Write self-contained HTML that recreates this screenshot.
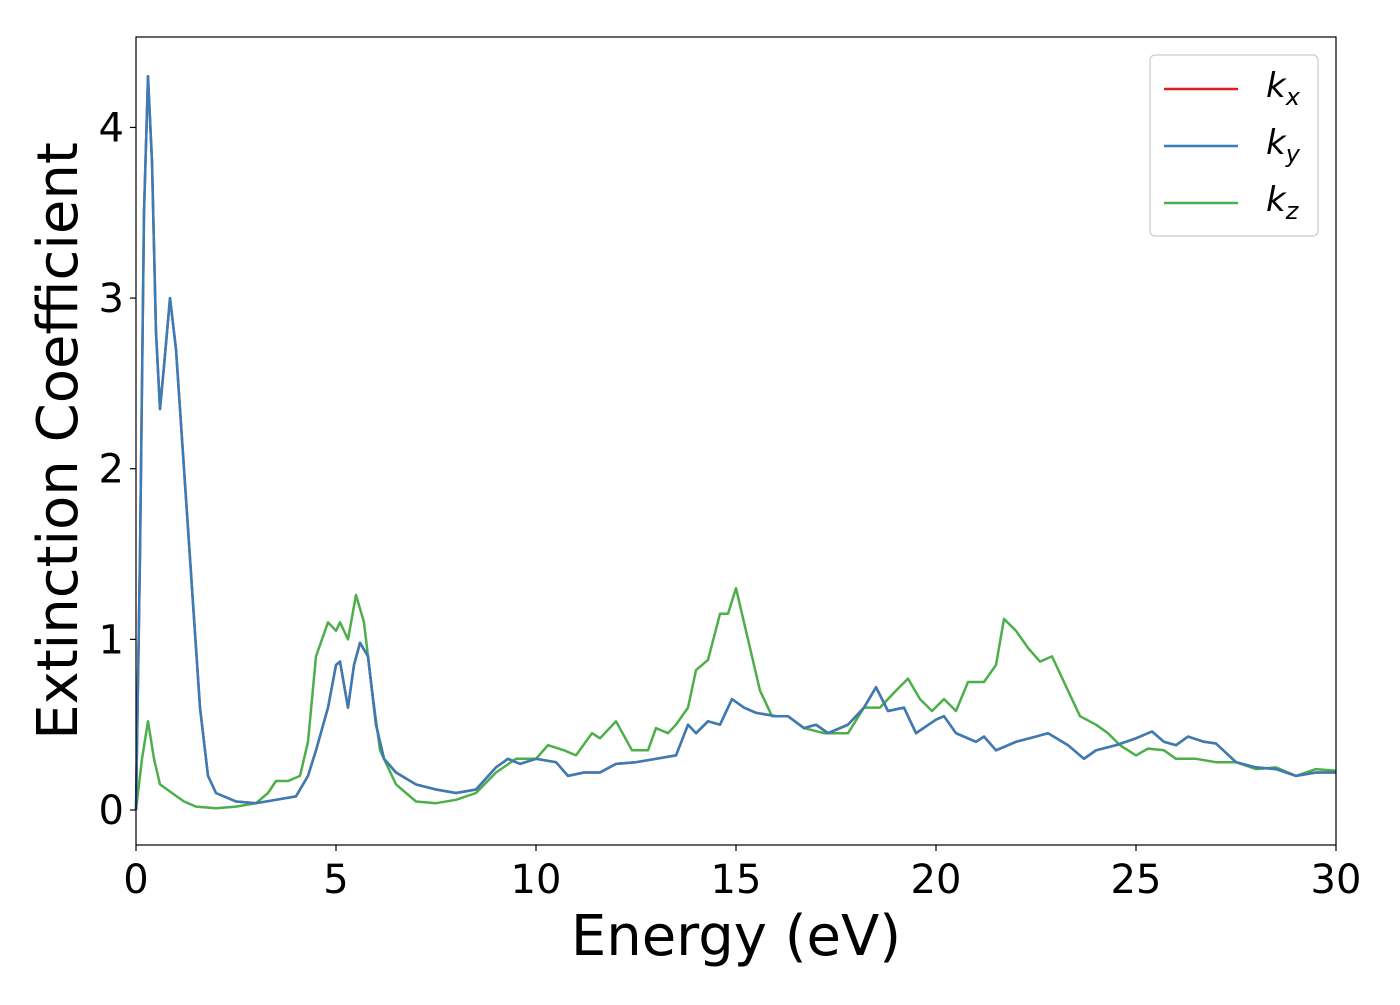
<!DOCTYPE html>
<html><head><meta charset="utf-8"><style>
html,body{margin:0;padding:0;background:#fff;}
svg text{font-family:"DejaVu Sans","Liberation Sans",sans-serif;}
</style></head><body>
<svg id="chart" width="1400" height="1000" viewBox="0 0 1400 1000" xmlns="http://www.w3.org/2000/svg"></svg>
<script>
const xTicks=[0,5,10,15,20,25,30];
const yTicks=[0,1,2,3,4];
const energyXY=[0,0.1,0.2,0.3,0.4,0.5,0.6,0.7,0.85,1.0,1.2,1.4,1.6,1.8,2.0,2.5,3,3.5,4,4.3,4.5,4.8,5.0,5.1,5.3,5.45,5.6,5.8,6.0,6.2,6.5,7,7.5,8,8.5,9,9.3,9.6,10,10.5,10.8,11.2,11.6,12,12.5,13,13.5,13.8,14,14.3,14.6,14.9,15.2,15.5,16,16.3,16.7,17,17.3,17.8,18.2,18.5,18.8,19.2,19.5,20,20.2,20.5,21,21.2,21.5,22,22.5,22.8,23.3,23.7,24,24.5,25,25.4,25.7,26,26.3,26.7,27,27.5,28,28.5,29,29.5,30];
const kx=[0,1.5,3.5,4.3,3.8,2.8,2.35,2.6,3.0,2.7,2.0,1.3,0.6,0.2,0.1,0.05,0.04,0.06,0.08,0.2,0.35,0.6,0.85,0.87,0.6,0.85,0.98,0.9,0.5,0.3,0.22,0.15,0.12,0.1,0.12,0.25,0.3,0.27,0.3,0.28,0.2,0.22,0.22,0.27,0.28,0.3,0.32,0.5,0.45,0.52,0.5,0.65,0.6,0.57,0.55,0.55,0.48,0.5,0.45,0.5,0.6,0.72,0.58,0.6,0.45,0.53,0.55,0.45,0.4,0.43,0.35,0.4,0.43,0.45,0.38,0.3,0.35,0.38,0.42,0.46,0.4,0.38,0.43,0.4,0.39,0.28,0.25,0.24,0.2,0.22,0.22];
const ky=kx.slice();
const energyZ=[0,0.15,0.3,0.45,0.6,0.9,1.2,1.5,2,2.5,3,3.3,3.5,3.8,4.1,4.3,4.5,4.8,5.0,5.1,5.3,5.5,5.7,5.9,6.1,6.5,7,7.5,8,8.5,9,9.5,10,10.3,10.7,11,11.4,11.6,12,12.4,12.8,13,13.3,13.5,13.8,14,14.3,14.6,14.8,15,15.3,15.6,15.9,16.3,16.7,17.2,17.8,18.2,18.6,19,19.3,19.6,19.9,20.2,20.5,20.8,21.2,21.5,21.7,22,22.3,22.6,22.9,23.3,23.6,24,24.3,24.6,25,25.3,25.7,26,26.5,27,27.5,28,28.5,29,29.5,30];
const kz=[0,0.3,0.52,0.3,0.15,0.1,0.05,0.02,0.01,0.02,0.04,0.1,0.17,0.17,0.2,0.4,0.9,1.1,1.05,1.1,1.0,1.26,1.1,0.7,0.35,0.15,0.05,0.04,0.06,0.1,0.22,0.3,0.3,0.38,0.35,0.32,0.45,0.42,0.52,0.35,0.35,0.48,0.45,0.5,0.6,0.82,0.88,1.15,1.15,1.3,1.0,0.7,0.55,0.55,0.48,0.45,0.45,0.6,0.6,0.7,0.77,0.65,0.58,0.65,0.58,0.75,0.75,0.85,1.12,1.05,0.95,0.87,0.9,0.7,0.55,0.5,0.45,0.38,0.32,0.36,0.35,0.3,0.3,0.28,0.28,0.24,0.25,0.2,0.24,0.23];

const NS="http://www.w3.org/2000/svg";
const svg=document.getElementById('chart');
const L=136,R=1336,T=37,B=845;
const yMin=-0.205,yMax=4.53;
const xs=v=>L+(v-0)/30*(R-L);
const ys=v=>B-(v-yMin)/(yMax-yMin)*(B-T);
function mk(tag,attrs){const e=document.createElementNS(NS,tag);for(const k in attrs)e.setAttribute(k,attrs[k]);svg.appendChild(e);return e;}

function series(xa,ya,color,name){
  const d=xa.map((x,i)=>(i?'L':'M')+xs(x).toFixed(1)+','+ys(ya[i]).toFixed(1)).join(' ');
  const p=mk('path',{d:d,fill:'none',stroke:color,'stroke-width':2.5,'stroke-linejoin':'round'});
  
  
}
const clip=mk('clipPath',{id:'clip'});
svg.removeChild(clip);
const defs=mk('defs',{});defs.appendChild(clip);
const cr=document.createElementNS(NS,'rect');cr.setAttribute('x',L);cr.setAttribute('y',T);cr.setAttribute('width',R-L);cr.setAttribute('height',B-T);clip.appendChild(cr);

series(energyZ,kz,'#4daf4a','kz-line');
series(energyXY,kx,'#e41a1c','kx-line');
series(energyXY,ky,'#377eb8','ky-line');

const frame=mk('rect',{x:L,y:T,width:R-L,height:B-T,fill:'none',stroke:'#000','stroke-width':1.2});



xTicks.forEach(v=>{
  const x=xs(v);
  const tk=mk('line',{x1:x,x2:x,y1:B,y2:B+6,stroke:'#000','stroke-width':1.2});
  
  
  const t=mk('text',{x:x,y:B+48,'font-size':40,'text-anchor':'middle'});
  t.textContent=v;
  
  
});
yTicks.forEach(v=>{
  const y=ys(v);
  const tk=mk('line',{x1:L-6,x2:L,y1:y,y2:y,stroke:'#000','stroke-width':1.2});
  
  
  const t=mk('text',{x:L-12,y:y+14,'font-size':40,'text-anchor':'end'});
  t.textContent=v;
  
  
});
const xt=mk('text',{x:736,y:955,'font-size':56,'text-anchor':'middle'});
xt.textContent='Energy (eV)';


const yt=mk('text',{x:0,y:0,'font-size':56,'text-anchor':'middle',transform:'translate(77,441) rotate(-90)'});
yt.textContent='Extinction Coefficient';



// legend
const lg=mk('rect',{x:1150,y:55,width:168,height:181,rx:5,fill:'#fff',stroke:'#ccc','stroke-width':1.2});


const legendLabels=['x','y','z'];
const legendColors=['#e41a1c','#377eb8','#4daf4a'];
legendLabels.forEach((s,i)=>{
  const y=89+i*57;
  const ln=mk('line',{x1:1164,x2:1238,y1:y,y2:y,stroke:legendColors[i],'stroke-width':2.5});
  
  
  const t=mk('text',{x:1266,y:y+8,'font-size':34,'font-style':'italic'});
  t.innerHTML='k<tspan font-size="24" dy="8">'+s+'</tspan>';
  
  
});
</script>
</body></html>
